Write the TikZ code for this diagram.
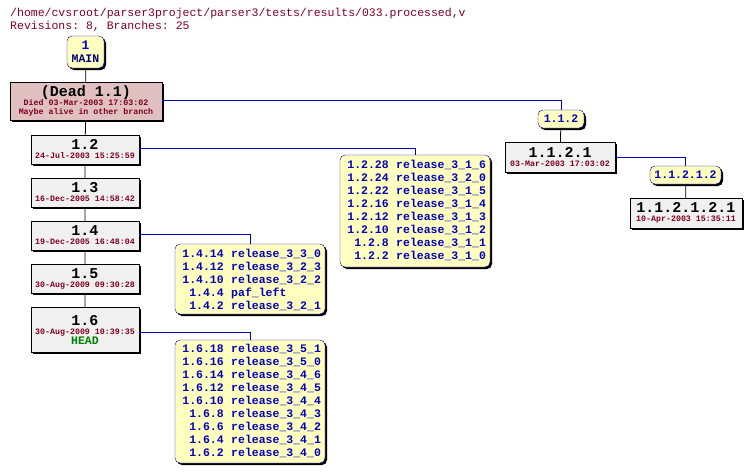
\documentclass[tikz,border=0pt]{standalone}
\usepackage{fontspec}
\setmonofont{Liberation Mono}
\usetikzlibrary{shadows}
\definecolor{tagfill}{HTML}{FFFFC0}
\definecolor{revfill}{HTML}{F0F0F0}
\definecolor{deadfill}{HTML}{E0C0C0}
\definecolor{datered}{HTML}{800020}
\definecolor{tagblue}{HTML}{0000C0}
\begin{document}
\begin{tikzpicture}[x=1pt, y=-1pt, font=\ttfamily\bfseries,
  shd/.style={drop shadow={shadow xshift=2pt, shadow yshift=-2pt, fill=black, opacity=1}},
  rev/.style={draw=black, fill=revfill, shd, inner sep=0pt},
  tag/.style={draw=tagblue, fill=tagfill, rounded corners=5pt, shd, inner sep=0pt},
  link/.style={draw=tagblue, line width=0.8pt},
  trunk/.style={draw=black, line width=0.8pt},
  tagtxt/.style={text=tagblue, font=\ttfamily\bfseries\fontsize{11.5}{12}\selectfont, inner sep=0pt}]

\useasboundingbox (0,0) rectangle (750,472);

\node[anchor=base west, inner sep=0pt, text=datered, font=\ttfamily\fontsize{11.5}{12}\selectfont] (title) at (10,16) {/home/cvsroot/parser3project/parser3/tests/results/033.processed,v};
\node[anchor=base west, inner sep=0pt, text=datered, font=\ttfamily\fontsize{11.5}{12}\selectfont] (stats) at (10,29) {Revisions: 8, Branches: 25};

% trunk
\node[tag, minimum width=37pt, minimum height=32pt, align=center] (main) at (85.5,52) {\textcolor{tagblue}{\fontsize{13}{14}\selectfont 1}\\[1pt]\textcolor{blue!50!black}{\fontsize{11.5}{12}\selectfont MAIN}};
\node[rev, fill=deadfill, minimum width=152pt, minimum height=38pt, align=center] (dead) at (86,101) {\fontsize{15}{16}\selectfont (Dead 1.1)\\[-3pt]\textcolor{datered}{\fontsize{8.3}{9}\selectfont Died 03-Mar-2003 17:03:02}\\[-3pt]\textcolor{datered}{\fontsize{8.3}{9}\selectfont Maybe alive in other branch}};
\foreach \n/\l/\y/\d in {12/1.2/149.5/24-Jul-2003 15:25:59, 13/1.3/192.5/16-Dec-2005 14:58:42, 14/1.4/235.5/19-Dec-2005 16:48:04, 15/1.5/278.5/30-Aug-2009 09:30:28}
  \node[rev, minimum width=108pt, minimum height=29pt, align=center] (r\n) at (85,\y) {\fontsize{15}{16}\selectfont \l\\[-3pt]\textcolor{datered}{\fontsize{8.3}{9}\selectfont \d}};
\node[rev, minimum width=108pt, minimum height=45pt, align=center] (r16) at (85,329.5) {\fontsize{15}{16}\selectfont 1.6\\[-3pt]\textcolor{datered}{\fontsize{8.3}{9}\selectfont 30-Aug-2009 10:39:35}\\[-2pt]\textcolor{green!50!black}{\fontsize{11.5}{12}\selectfont HEAD}};
\draw[trunk] (main) -- (dead) -- (r12) -- (r13) -- (r14) -- (r15) -- (r16);

% branch 1.1.2
\node[tag, minimum width=46pt, minimum height=18pt, text=tagblue, font=\ttfamily\bfseries\fontsize{11.5}{12}\selectfont] (b112) at (561,119) {1.1.2};
\node[rev, minimum width=110pt, minimum height=30pt, align=center] (r1121) at (560,157) {\fontsize{15}{16}\selectfont 1.1.2.1\\[-3pt]\textcolor{datered}{\fontsize{8.3}{9}\selectfont 03-Mar-2003 17:03:02}};
\node[tag, minimum width=71pt, minimum height=18pt, text=tagblue, font=\ttfamily\bfseries\fontsize{11.5}{12}\selectfont] (b11212) at (685.5,175) {1.1.2.1.2};
\node[rev, minimum width=112pt, minimum height=30pt, align=center] (r112121) at (686,213) {\fontsize{15}{16}\selectfont 1.1.2.1.2.1\\[-3pt]\textcolor{datered}{\fontsize{8.3}{9}\selectfont 10-Apr-2003 15:35:11}};
\draw[link] (dead.east |- 0,100) -| (b112.north);
\draw[trunk] (b112) -- (r1121);
\draw[link] (r1121.east) -| (b11212.north);
\draw[trunk] (b11212) -- (r112121);

% tag boxes
\node[tag, minimum width=150pt, minimum height=112pt] (t12) at (415,211) {};
\node[tag, minimum width=150pt, minimum height=70pt] (t14) at (250,279) {};
\node[tag, minimum width=150pt, minimum height=123pt] (t16) at (250,401.5) {};
\draw[link] (r12.east |- 0,148) -| (t12.north);
\draw[link] (r14.east |- 0,234) -| (t14.north);
\draw[link] (r16.east |- 0,332) -| (t16.north);

\foreach \r/\t [count=\i] in {1.2.28/release\_3\_1\_6, 1.2.24/release\_3\_2\_0, 1.2.22/release\_3\_1\_5, 1.2.16/release\_3\_1\_4, 1.2.12/release\_3\_1\_3, 1.2.10/release\_3\_1\_2, 1.2.8/release\_3\_1\_1, 1.2.2/release\_3\_1\_0} {
  \node[tagtxt, anchor=east] (a\i) at (389,152+13*\i) {\r};
  \node[tagtxt, anchor=west] (b\i) at (396,152+13*\i) {\t};
}
\foreach \r/\t [count=\i] in {1.4.14/release\_3\_3\_0, 1.4.12/release\_3\_2\_3, 1.4.10/release\_3\_2\_2, 1.4.4/paf\_left, 1.4.2/release\_3\_2\_1} {
  \node[tagtxt, anchor=east] (c\i) at (224,241+13*\i) {\r};
  \node[tagtxt, anchor=west] (d\i) at (231,241+13*\i) {\t};
}
\foreach \r/\t [count=\i] in {1.6.18/release\_3\_5\_1, 1.6.16/release\_3\_5\_0, 1.6.14/release\_3\_4\_6, 1.6.12/release\_3\_4\_5, 1.6.10/release\_3\_4\_4, 1.6.8/release\_3\_4\_3, 1.6.6/release\_3\_4\_2, 1.6.4/release\_3\_4\_1, 1.6.2/release\_3\_4\_0} {
  \node[tagtxt, anchor=east] (e\i) at (224,336+13*\i) {\r};
  \node[tagtxt, anchor=west] (f\i) at (231,336+13*\i) {\t};
}
\end{tikzpicture}
\end{document}
